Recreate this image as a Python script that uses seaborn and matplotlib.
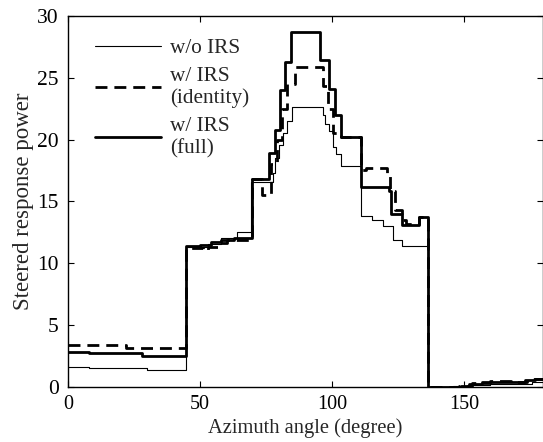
import matplotlib
matplotlib.use("Agg")
import matplotlib.pyplot as plt
import seaborn as sns
import pandas as pd

# ── Data (step breakpoints, steps-post) ───────────────────────────────────
x_wo = [0, 8, 30, 44.5, 53, 58, 64, 69.3, 77.5, 78.5, 80, 81.3, 83, 85,
        96.5, 97.5, 99, 100.3, 101.5, 103.5, 111, 115, 119.5, 123, 126.5,
        136.3, 146, 152, 160, 170, 176, 180]
y_wo = [1.62, 1.48, 1.38, 11.3, 11.55, 12.0, 12.5, 16.6, 17.3, 18.5, 19.6,
        20.5, 21.5, 22.6, 22.0, 21.3, 20.7, 19.4, 18.8, 17.9, 13.8, 13.5,
        13.0, 11.9, 11.35, 0.0, 0.05, 0.12, 0.2, 0.25, 0.35, 0.35]

x_id = [0, 22, 44.5, 51, 53, 57, 60, 69.8, 73.5, 77, 79, 81, 83, 86,
        96.5, 98.5, 100.5, 103.5, 111, 113, 121, 122, 124, 126.5, 128, 133,
        136.3, 148, 153, 160, 168, 174, 180]
y_id = [3.37, 3.1, 11.2, 11.1, 11.3, 11.6, 11.9, 16.8, 15.5, 18.0, 20.0,
        22.5, 24.5, 25.9, 24.3, 22.5, 20.5, 20.2, 17.5, 17.7, 17.2, 15.8,
        14.3, 13.5, 13.2, 13.7, 0.0, 0.1, 0.3, 0.45, 0.4, 0.6, 0.6]

x_full = [0, 8, 28, 44.5, 50, 54, 58, 63, 69.8, 76.3, 78.3, 80.3, 82, 84.4,
          95.5, 99, 101, 103.5, 111, 121.5, 122.5, 126.5, 133, 136.3, 149,
          152, 157, 167, 173, 177, 180]
y_full = [2.83, 2.72, 2.5, 11.4, 11.5, 11.7, 11.9, 12.05, 16.8, 18.9, 20.8,
          24.0, 26.3, 28.7, 26.4, 24.1, 22.0, 20.2, 16.2, 15.8, 14.0, 13.1,
          13.7, 0.0, 0.1, 0.25, 0.4, 0.35, 0.55, 0.6, 0.6]

LABELS = ["w/o IRS", "w/ IRS\n(identity)", "w/ IRS\n(full)"]

sns.set_style("ticks")
plt.rcParams["font.family"] = ["Liberation Serif", "DejaVu Serif"]

fig = plt.figure(figsize=(5.43, 4.42), dpi=100)
ax = fig.add_axes([0.1257, 0.125, 0.8743, 0.8388])

df_wo = pd.DataFrame({"x": x_wo, "y": y_wo})
df_id = pd.DataFrame({"x": x_id, "y": y_id})
df_full = pd.DataFrame({"x": x_full, "y": y_full})

sns.lineplot(data=df_wo, x="x", y="y", ax=ax, color="black", linewidth=0.8,
             drawstyle="steps-post", estimator=None, sort=False, label=LABELS[0])
sns.lineplot(data=df_id, x="x", y="y", ax=ax, color="black", linewidth=2.0,
             drawstyle="steps-post", estimator=None, sort=False, label=LABELS[1])
ax.lines[-1].set_dashes((4.3, 2.5))
sns.lineplot(data=df_full, x="x", y="y", ax=ax, color="black", linewidth=2.0,
             drawstyle="steps-post", estimator=None, sort=False, label=LABELS[2])

ax.set_xlim(0, 180)
ax.set_ylim(0, 30)
ax.set_xticks([0, 50, 100, 150])
ax.set_yticks([0, 5, 10, 15, 20, 25, 30])
ax.tick_params(direction="in", top=True, right=True, length=4, width=0.8,
               colors="black")
ax.tick_params(axis="x", labelsize=14.5, pad=6)
ax.tick_params(axis="y", labelsize=15.5, pad=7)
for s in ax.spines.values():
    s.set_linewidth(1.0)
    s.set_color("black")
ax.set_xlabel("Azimuth angle (degree)", fontsize=14.8, labelpad=3)
ax.set_ylabel("Steered response power", fontsize=16.5, labelpad=2)

leg = ax.legend(loc="upper left", frameon=False, fontsize=15.3,
                handlelength=3.1, handletextpad=0.45, labelspacing=0.4,
                borderpad=0, borderaxespad=0, bbox_to_anchor=(0.056, 0.94))
for t in leg.get_texts():
    t.set_linespacing(1.2)

fig.savefig("out.png", dpi=100)
